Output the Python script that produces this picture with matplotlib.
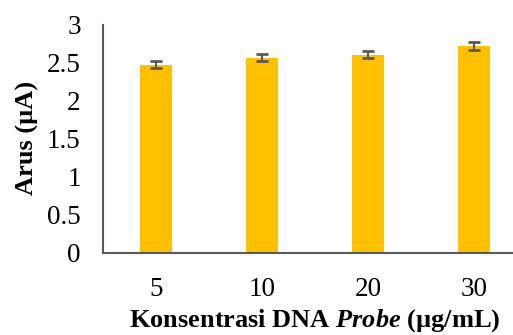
import matplotlib
matplotlib.use("Agg")
import matplotlib.pyplot as plt
import numpy as np

# konsentrasi probe vs arus puncak
konsentrasi = ["5", "10", "20", "30"]
arus = [2.48, 2.57, 2.61, 2.72]
galat = [0.05, 0.05, 0.05, 0.05]

plt.rcParams['font.family'] = 'Liberation Serif'
plt.rcParams['mathtext.fontset'] = 'custom'
plt.rcParams['mathtext.rm'] = 'Liberation Serif:bold'
plt.rcParams['mathtext.it'] = 'Liberation Serif:italic:bold'

fig = plt.figure(figsize=(5.13, 3.35), dpi=100)
ax = fig.add_axes([103/513, 1 - 253/335, 424/513, 228/335])

x = np.arange(len(konsentrasi))
ax.bar(x, arus, width=0.31, color="#FFC000", zorder=2)
ax.errorbar(x, arus, yerr=galat, fmt='none', ecolor="#595959",
            elinewidth=1.5, capsize=4.3, capthick=2, zorder=3)

ax.set_xlim(-0.5, 3.5)
ax.set_ylim(0, 3)
ax.set_yticks(np.arange(0, 3.01, 0.5))
ax.set_yticklabels(["0", "0.5", "1", "1.5", "2", "2.5", "3"])
ax.set_xticks(x)
ax.set_xticklabels(konsentrasi)
ax.tick_params(axis='both', length=0, labelsize=19.5, colors='black')
ax.tick_params(axis='x', pad=17)
ax.tick_params(axis='y', pad=16)

for s in ['top', 'right']:
    ax.spines[s].set_visible(False)
for s in ['left', 'bottom']:
    ax.spines[s].set_color("#595959")
    ax.spines[s].set_linewidth(1.5)

fig.text(27/513, 1 - 138/335, "Arus (µA)", fontsize=19, fontweight='bold',
         rotation=90, ha='center', va='center')
fig.text(315/513, 1 - 327/335, r"Konsentrasi DNA $\mathit{Probe}$ (µg/mL)",
         fontsize=19, fontweight='bold', ha='center', va='baseline')

fig.savefig("out.png", dpi=100)
